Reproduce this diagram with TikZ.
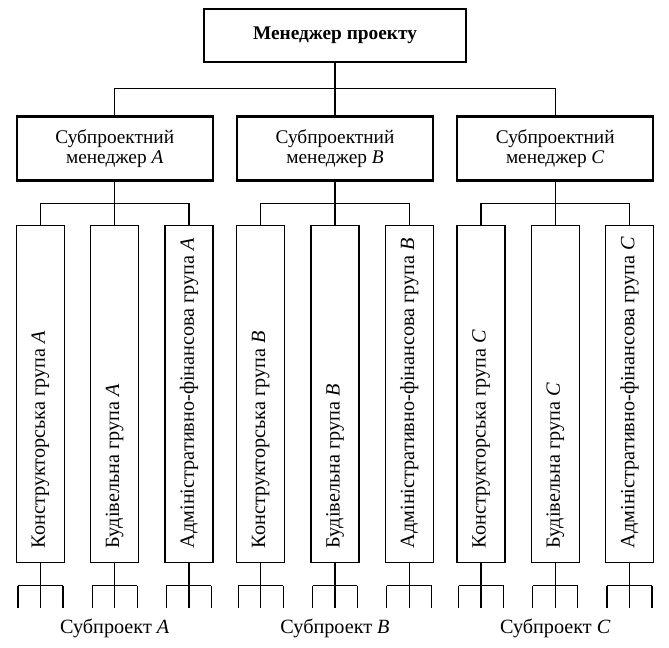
\documentclass[tikz,border=0pt]{standalone}
\usepackage{fontspec}
\setmainfont{Liberation Serif}
\usepackage{tikz}
\usetikzlibrary{positioning}

\begin{document}
\begin{tikzpicture}[mgr/.style = {draw, line width=1.4pt, minimum width=5.24cm, minimum height=1.06cm, font=\fontsize{11}{12}\selectfont\bfseries},
  sub/.style = {draw, line width=1.3pt, minimum width=3.92cm, minimum height=1.28cm, align=center, font=\fontsize{11}{11.2}\selectfont},
  grp/.style = {draw, line width=0.7pt, minimum width=0.96cm, minimum height=6.74cm, inner sep=0pt},
  grtext/.style = {rotate=90, anchor=west, inner sep=0pt, font=\fontsize{11.5}{12}\selectfont},
  sublabel/.style = {font=\fontsize{11.5}{12}\selectfont},
  line width=0.7pt]
\useasboundingbox (0,0) rectangle (13.38,-12.96);
\node[mgr] (m) at (6.70,-0.71) {Менеджер проекту};
\node[sub] (b) [below=1.04cm of m] {Субпроектний\\менеджер \textit{B}};
\node[sub] (a) [left=0.44cm of b] {Субпроектний\\менеджер \textit{A}};
\node[sub] (c) [right=0.44cm of b] {Субпроектний\\менеджер \textit{C}};

\foreach \s/\L in {a/A,b/B,c/C} {
  \node[grp] (\s2) [below=0.86cm of \s] {};
  \node[grp] (\s1) [left=0.5cm of \s2] {};
  \node[grp] (\s3) [right=0.5cm of \s2] {};
  \node[grtext] (t\s1) at ([yshift=0.28cm]\s1.south) {Конструкторська група \textit{\L}};
  \node[grtext] (t\s2) at ([yshift=0.28cm]\s2.south) {Будівельна група \textit{\L}};
  \node[grtext] (t\s3) at ([yshift=0.28cm]\s3.south) {Адміністративно-фінансова група \textit{\L}};
  \node[sublabel] (p\s) at (\s |- 0,-12.56) {Субпроект \textit{\L}};
  \draw (\s) -- (\s2);
  \draw (\s1.north) |- ([yshift=-0.44cm]\s.south) -| (\s3.north);
}

\coordinate (bus) at ([yshift=-0.5cm]m.south);
\draw (m) -- (b);
\draw (a.north) |- (bus) -| (c.north);

\foreach \n in {a1,a2,a3,b1,b2,b3,c1,c2,c3}
  \draw (\n.south) -- ++(0,-0.46) ++(-0.45,0) -- ++(0.9,0) ++(-0.9,0) -- ++(0,-0.44)
    ++(0.45,0.44) -- ++(0,-0.44) ++(0.45,0.44) -- ++(0,-0.44);
\end{tikzpicture}
\end{document}
